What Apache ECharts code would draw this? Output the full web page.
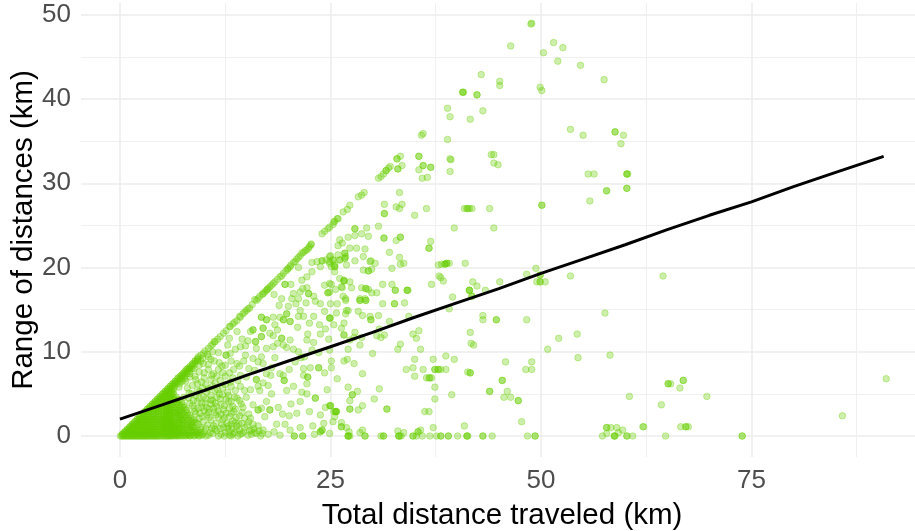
<!DOCTYPE html>
<html><head><meta charset="utf-8">
<script src="https://cdn.jsdelivr.net/npm/echarts@6/dist/echarts.min.js"></script>
<style>html,body{margin:0;padding:0;background:#fff}#c{width:915px;height:531px}</style></head>
<body><div id="c"></div>
<script>
const xTicks=[0,25,50,75], xMinor=[12.5,37.5,62.5,87.5];
const yTicks=[0,10,20,30,40,50], yMinor=[5,15,25,35,45];
const trendLine=[[0,2.0],[5,3.7],[10,5.4],[15,7.2],[20,8.9],[25,10.6],[30,12.3],[35,14.1],[40,15.8],[45,17.5],[50,19.3],[55,21],[60,22.7],[65,24.5],[70,26.2],[75,27.8],[80,29.6],[85,31.3],[90.7,33.2]];
const upperPoints=[[48.8,48.9],[48.9,49],[46.4,46.3],[51.5,46.7],[50.3,45.5],[52.6,46.1],[52,44.5],[54.7,44],[57.5,42.3],[42.9,42.9],[45.1,42.1],[45.1,41.6],[49.9,41.4],[50.1,41],[40.7,40.8],[40.7,40.8],[40.8,40.8],[42.4,40.5],[42.4,40.5],[38.9,38.9],[39.2,37.9],[43.1,38.6],[41.6,37.6],[53.5,36.4],[55,35.7],[58.8,36.1],[58.8,36.1],[59.8,35.7],[59.5,34.7],[35.8,35.7],[36,35.9],[38.9,35.2],[33.3,33.2],[32.9,32.9],[32.9,32.9],[35.5,33.2],[35.5,33.2],[36,32.1],[36,32.1],[36.9,31.9],[36.9,31.9],[33.5,32.1],[33,31.7],[33,31.7],[35.5,31.6],[36.5,30.7],[35.9,30.6],[39.2,32.9],[39.3,32.8],[39.2,31.4],[44.1,33.4],[44.4,33.4],[44.4,32.4],[44.9,32.2],[55.6,31.1],[56.3,31.1],[60.2,31.1],[60.3,31.1],[57.8,29.1],[57.8,29.1],[60.2,29.4],[55.8,27.9],[50.1,27.4],[50.1,27.4],[33.2,28.9],[31.4,27.5],[31.4,26.4],[31.4,26.4],[33.5,27.5],[32.8,27.2],[33.2,27],[36.4,27],[35,26.2],[40.9,27],[41.2,27],[41.3,27],[41.5,27],[41.8,27],[43.9,27],[30.7,24.9],[27.9,24.6],[27.9,24.6],[29.3,24.7],[39.7,24.7],[44.4,24.7]];
const diagonalPoints=[[30.7,30.6],[31,30.8],[31.3,31.1],[31.6,31.5],[31.6,31.5],[31.9,31.8],[32.1,32],[29,28.9],[28.7,28.6],[28.3,28.4],[27.3,27.4],[27,26.9],[26.5,26.6],[25.9,25.8],[25.8,25.8],[25.5,25.5],[25.4,25.4],[25.3,25.1],[24.9,24.8],[24.7,24.6],[24.3,24.3],[24,24],[22.7,22.7],[22.7,22.8],[22.4,22.3],[21.8,21.8],[21.6,21.7],[21.4,21.4],[21.2,21.2],[20.8,20.7],[20.6,20.6],[20.3,20.3],[20,19.9],[19.9,19.8],[19.4,19.3],[19.2,19],[18.4,18.3],[17.8,17.7],[17.6,17.5],[17.5,17.4],[17.4,17.3],[17,16.9],[16.6,16.6],[16.4,16.3],[16,16.2],[15.4,15.2],[15.2,15.1],[14.3,14.1],[14.2,14.2],[13.9,13.7],[13.1,13],[13,13],[12.3,12.2],[11.3,11.2],[11.2,11.2],[11,10.9],[10.1,10.1],[9.9,9.8],[9.6,9.6],[9.3,9.4]];
const extraDiagonal=[[9.2,9.1],[8.9,8.9],[8.6,8.5],[8.2,8.1],[7.9,7.9],[7.6,7.5],[7.3,7.2],[6.9,6.9],[6.6,6.5],[6.3,6.2],[6,5.9],[5.7,5.6],[5.4,5.3],[5.1,5],[4.8,4.7],[4.5,4.4],[4.2,4.1],[3.9,3.8],[3.6,3.5],[3.3,3.2],[3,2.9],[2.7,2.6],[2.4,2.3],[2.1,2],[1.8,1.7],[1.5,1.4],[1.2,1.1],[.9,.8],[.6,.5],[.3,.2],[10.5,10.4],[10.8,10.7],[11.6,11.5],[11.9,11.8],[12.6,12.5],[13.4,13.3],[13.6,13.5],[14.6,14.5],[14.8,14.7],[15,14.9],[15.7,15.6],[16.2,16.1],[16.9,16.8],[17.2,17.1],[18,17.9],[18.2,18.1],[18.7,18.6],[19,18.9],[19.7,19.6],[20.2,20.1],[21,21],[22,22],[22.2,22.1],[22.5,22.5]];
const middlePoints=[[31.35,23.5],[31.35,23.5],[33.3,23.6],[33.3,23.6],[32.8,23.2],[36.9,23.1],[36.7,22.3],[36.7,22.3],[26.1,23.3],[27.1,23.6],[27.9,23.8],[28.7,24],[29.5,23.7],[32,21.8],[33.2,21.2],[33.3,20.4],[33.7,20.5],[32.3,19.9],[30.3,20.5],[29.7,20.7],[29.1,22.2],[28.1,22.3],[27.3,22.3],[26.4,22.9],[25.9,22.6],[26.7,21.7],[26.7,21.7],[26.7,21.1],[26.7,21.1],[26.1,20.9],[26.1,20.9],[25.3,20.9],[25.3,20.9],[25.5,20.1],[25.5,20.1],[26.9,20.3],[27.9,20.8],[28.9,21.3],[29.8,20.8],[28.9,19.7],[29.5,19.6],[29.5,19.6],[29.9,19.8],[24.9,21.3],[24.9,20.5],[24.9,18.1],[26.1,18.7],[26.6,18.4],[26.6,18.4],[27.3,18.3],[27.5,17.6],[26.4,17.6],[25.6,17.4],[24.9,17.1],[28.7,17.6],[29.2,17.5],[29.2,17.5],[29.9,17],[30.5,17],[29.5,17.4],[31.2,18],[32.3,18],[32.7,17.3],[32.7,17.3],[34.1,17.3],[34.1,17.3],[34.2,17.3],[28.5,16.1],[28.5,16.1],[29.2,16.1],[29.2,16.1],[26.8,16.1],[25.8,15.7],[31.2,15.7],[32.6,15.7],[32.6,15.7],[33.8,15.8],[25.7,14.6],[27.1,14.9],[26.8,14.5],[28.3,14.8],[28.8,14.3],[29.7,14.2],[30.7,14.3],[29.8,13.8],[29.8,13.8],[32,13.6],[34.3,14.2],[24.9,14],[24.9,14],[26.6,13.4],[25.4,13.2],[26.3,12.8],[26.6,12],[26.6,12],[27.9,12.3],[27.8,11.7],[28.7,11.7],[27.3,11.4],[28.5,10.8],[30.8,12.7],[30.5,11.9],[31,11.7],[31.4,12],[34.8,12.1],[35.5,12.5],[35.2,11.6],[33.3,10.9],[33,10.3],[35.7,10.3],[27.1,10.3],[30,9.8],[24.9,10.2],[25.1,8.9],[25.1,8.1],[26.6,8.9],[27,9.1],[27.8,8.6],[28.8,7.4],[35,9.1],[37.2,9.1],[38.7,9.5],[39.7,9.1],[34.8,8.1],[34,7.9],[36,7.9],[37.4,7.9],[37.4,7.9],[37.8,7.9],[37.8,7.9],[38.1,7.9],[38.7,7.9],[35,7.1],[36.4,6.9],[36.7,6.9],[36.8,6.9],[37,6.9],[37.4,5.8],[37.4,4.4],[39.4,4.9],[36.2,2.9],[36.7,2.9],[37.2,1],[40.9,1.2],[41.6,7.5],[41.6,7.5],[41.3,7.6],[45.8,8.8],[48.9,8.8],[48.2,7.9],[48.9,7.9],[45.4,6.6],[45.4,6.6],[43.9,5.3],[43.9,5.3],[46,5.3],[45.6,4.6],[46.4,4.6],[47.3,4.2],[47.3,4.2],[47.7,1.7],[41.6,12.3],[41.7,11],[42,10.8],[43.1,14.3],[43.1,13.8],[44.7,13.8],[44.7,13.8],[48.3,13.8],[52.1,11.6],[54.3,12.1],[50.8,10.3],[54.4,9.3],[58.2,9.6],[57.6,14.6],[53.5,19],[49.4,19.9],[48.3,19.2],[49.9,19.1],[49.9,19.1],[49.9,18.3],[49.9,18.3],[49.5,18.3],[50.5,18.3],[45.1,18.3],[41.9,18.3],[42.4,17.8],[43.4,17.3],[41.5,17.3],[41.5,17.3],[41.5,17.3],[41.8,16.6],[41.8,16.6],[39.5,16.5],[37,18],[37.9,19],[38.4,18.4],[38.1,18.8],[37.8,20.3],[38.2,20.4],[38.6,20.4],[38.6,20.4],[38.8,20.5],[38.8,20.5],[39.1,20.5],[41,20.5],[39.1,15.1],[26.3,1.1],[26.3,1.1],[27.2,0.5],[28.5,0.4],[28.8,0.7],[33,0.6],[33.7,0.4],[35.4,0.5],[35.4,0.5],[35.7,0.7],[25.3,1.7],[26.3,1.6],[26.9,1],[25.4,2.9],[25.6,2.9],[25.6,2.9],[24.9,3.6],[27.3,3.2],[27.3,3.2],[28.3,3.1],[28.8,3.6],[31.7,3.2],[31.7,3.2],[30.2,4.4],[27.3,4.2],[27.6,4.9],[27.6,4.9],[28.2,5.3],[27.1,5.8],[30.8,5.6]];
const farPoints=[[60.2,31.1],[60.2,29.4],[64.5,19],[60.5,4.7],[65.1,6.2],[65.1,6.2],[65.4,6.2],[66.9,6.6],[66.9,6.6],[66.5,5.7],[69.7,4.7],[64.3,3.7],[62.1,1.1],[62.2,1.1],[66.6,1.1],[67.2,1.1],[67.2,1.1],[67.5,1.1],[64.8,0],[73.9,0],[73.9,0],[85.8,2.4],[91,6.8],[57.8,1],[57.8,1],[58.3,1],[59,1],[59.7,0.7],[57.8,0.3],[59.2,0.4]];
const zeroRowX=[27.1,27.1,27.3,29.1,31,31.3,31.3,33.1,33.1,33.2,33.4,34.8,34.8,35.2,35.9,36.8,37.6,38.1,38.1,39,39,40.1,41.2,41.2,41.3,43.1,43.1,44.2,48.4,49.3,49.3,57.3,58.7,58.7,58.8,60.2,60.2,60.9,20.7,20.7,21.7,21.7,27.1,29.1];
const branchPoints=[[22.8,20.6],[23.4,20.7],[24,20.8],[24,20.8],[24.5,20.9],[25,21.4],[25.9,21.5],[26.8,21.3],[24.9,20.7],[25.5,20.3],[23.8,20.1],[22.8,19.5],[25.1,20.1],[25.5,19.5],[22.2,18.9],[21.6,18.5],[21.2,20],[26.6,18.5],[24.3,17.9],[25.1,18],[26.3,17.7],[19.6,18],[19.6,18],[20.3,18],[21.4,17.1],[22.2,17.6],[22.4,16.9],[22.4,16.9],[23,16.6],[20.6,16.9],[21.7,17.5],[24.7,17],[24.7,17],[26.5,16.6],[18.3,16.8],[19.2,16.3],[20.4,16.3],[21.2,16.3],[26.8,16.3],[28.5,16.3],[29.1,16.3],[20,15.4],[21.4,14.9],[21.2,14.2],[21.8,14.2],[23,14.2],[23.8,15.7],[25,14],[26.9,14.9],[19.8,14.5],[19.8,14.5],[19.4,13.8],[19.4,13.8],[20.2,13.6],[20.2,13.6],[19,14.1],[18.2,14.1],[16.8,14.1],[16.8,14.1],[17.4,13.8],[17.4,13.8],[15.8,12.6],[15.8,12.6],[17,12.8],[17,12.8],[18.4,13.2],[17.8,12.2],[18.2,11.9],[16.8,11.8],[16.8,11.8],[19.2,11.6],[19.2,11.6],[20.2,11.4],[15.5,12.4],[13.9,12.4],[14.5,11.5],[14.3,10.6],[13.7,10.3],[12.6,9.6],[12.6,9.6],[10.5,9.4],[16.1,11.2],[16.1,11.2],[16.2,10.4],[17.4,10.4],[18.2,10.6],[19.4,10.8],[19.8,10.5],[20.6,10.3],[21.2,10],[22.3,12.1],[23.8,12.1],[22.2,11.4],[23,11.1],[23.6,9.9],[13.9,8.6],[14.7,8.9],[18.4,9.3],[16.4,8.8],[23.6,8.1],[23.6,8.1],[22.6,8.1],[21.8,8],[21.8,7.2],[22.3,7],[22.3,7],[19,7.4],[19.5,6.6],[19.5,6.6],[19.4,7.2],[17.4,7.4],[16.2,6.7],[16.2,6.7],[17,6.3],[17.6,6],[16.4,5.9],[16.6,5.4],[15,7],[14.3,7.2],[22.2,6.2],[21.6,5.2],[22.2,5],[23.2,4.5],[23.2,4.5],[25,3.6],[25,3.6],[25.7,2.9],[25.7,2.9],[25.5,2.3],[24.2,1.5],[23.8,0.5],[23.8,0.5],[24,0.7],[24,0.7],[21.4,4.1],[20.3,3.8],[22.5,2.9],[21,2.7],[20.1,2.4],[19.6,1.4],[18.6,1.4],[16.4,3.1],[16.4,3.1],[16.8,3.3],[17.8,3.1],[17.8,3.1],[17.2,2.3],[17.4,4.1],[18,5],[15.8,3.7]];
const clusterPoints=[[7,0.4],[7.5,0.8],[8,0.3],[8.4,1.1],[8.9,0.5],[9.3,1.4],[9.8,0.2],[10.2,0.9],[10.7,0.4],[11.1,1.2],[11.5,0.6],[12,0.2],[12.3,1],[12.7,1.5],[13,0.5],[13.3,0.9],[13.6,0.4],[13.9,1.2],[14.2,0.7],[14.5,0.3],[14.8,1],[15.1,1.3],[15.4,0.6],[15.6,0.2],[15.9,0.9],[16.2,0.3],[16.4,1.2],[16.7,0],[17,0.7],[11.7,0],[12.4,0],[13.2,0],[14,0],[14.1,1.5],[13.7,1.6],[13.2,1.4],[12.8,0.9],[6.9,1.5],[7.3,2],[7.8,1.4],[8.1,2.4],[8.6,1.8],[9,2.6],[9.4,2.1],[9.9,1.7],[10.3,2.5],[10.8,1.9],[11.2,2.8],[11.7,2.2],[12.2,1.9],[12.6,2.7],[13,2.3],[13.5,2.9],[14.2,2.4],[14.8,2.1],[15.3,2.6],[7,3],[7.4,3.5],[7.9,3.1],[8.3,3.9],[8.8,3.3],[9.2,4.1],[9.7,3.4],[10.1,3.9],[10.6,3.2],[11,4.2],[11.5,3.5],[11.9,4.4],[12.4,3.6],[12.9,4.1],[13.4,3.5],[13.9,4.5],[14.4,3.8],[15,4.6],[6.7,3.9],[7.1,4.3],[7.6,4.6],[8.1,4.5],[8.5,5],[9,4.8],[9.5,5.3],[9.9,4.7],[10.3,5.2],[10.8,4.8],[11.3,5.4],[11.8,5],[12.2,5.7],[12.8,5.2],[13.2,5.9],[13.7,5.4],[8,5.7],[8.6,6],[9.2,6.2],[9.7,6.4],[10.2,6.1],[10.8,6.7],[11.3,6.3],[11.9,6.6],[12.5,7.1],[7.8,6.5],[8.3,7],[8.9,7.1],[9.4,7.6],[10,7.5],[10.5,7.9],[11.1,7.4],[11.7,7.9],[12.1,8.3],[8.8,8],[9.4,8.4],[9.9,8.6],[10.5,8.5],[11.2,8.9],[9.8,9.2],[10.4,9.7],[11,10],[11.7,9.9],[7,5.8],[5.9,5.2],[6.3,4.4],[7.2,2.5],[6.6,2.8],[6.9,0.9],[13,7.5],[13.4,6.9]];
const extraCluster=[[8.2,.1],[9.1,.2],[10,.5],[10.5,.1],[11,.3],[11.3,.8],[11.9,.9],[12.5,.4],[13,.1],[13.4,.2],[13.8,.8],[14.3,.2],[14.7,.5],[15.2,.1],[15.6,.7],[16,.4],[16.5,.6],[16.9,.3],[8.7,1],[9.6,.8],[10.4,1.3],[10.9,.9],[11.4,1.5],[12.1,1.4],[12.9,1.2],[13.4,1.8],[14.5,1.5],[15.3,1.7],[15.8,1.4],[8.9,1.6],[9.8,2.3],[10.6,2.2],[11.4,2.5],[12,2.6],[12.4,2.2],[13.2,2.7],[13.8,2.2],[14.5,2.8],[15.5,2.1],[8.4,2.1],[8.9,2.9],[9.5,2.7],[10,3],[10.5,2.8],[11.1,3.3],[11.7,3],[12.3,3.1],[13,3.3],[13.7,3.2],[14.6,3.4],[8.6,3.6],[9.3,3.3],[9.7,3.9],[10.3,3.4],[10.8,3.8],[11.3,3.9],[12,3.8],[12.6,4.4],[13.2,4.1],[13.6,4.6],[14.2,4.2],[8.7,4.2],[9.4,4.5],[10.2,4.4],[10.8,4.3],[11.5,4.6],[12.2,4.9],[12.9,4.8],[8.2,5.1],[9.2,5.4],[9.8,5.7],[10.5,5.6],[11,5.9],[11.6,5.5],[12.5,6.1],[13.1,6.4],[14.3,5.9],[14.8,5.4],[15.5,5.5],[14,6.6],[9,6.7],[10,6.9],[10.9,7.2],[11.5,7.1],[12.2,7.5],[13.5,7.9],[14.2,8.3],[15.3,8],[16,7.8],[9.6,8.9],[10.8,9.1],[11.8,8.7],[12.5,8.4],[13.2,8.9],[14.9,9.6],[15.8,9.2],[17,8.6],[18,8.1],[17.9,7.2],[20.1,7.9],[20.8,8.8],[21.5,9.3],[24.3,7.5],[25.8,6.8],[24.6,5.5],[19.8,5.4],[20.6,5.9],[18.8,3.4],[19.3,2.6],[23.8,2.5],[24.4,3.4],[22.9,1.2],[21.4,1],[20.2,.7],[18.3,.5],[17.6,.2],[19,.1],[23.1,.2],[24.9,.3],[13.1,9.8],[12.8,10.8],[14.9,10.7],[15.2,11.3],[13,11.6],[16.8,9.4],[18.7,11],[21.1,12.9],[22.5,13.4],[23.7,13.2],[24.3,14.8],[22.1,15.8],[23.2,16],[25,15.7],[24.4,12.7],[24.8,11.5],[21.9,9.4],[22.8,10.2],[18.7,12.6],[20.9,15.7],[18.9,15.5]];
const denseRows=[
[0,.05,.2,.35,.5,.65,.8,.95,1.1,1.25,1.4,1.55,1.7,1.85,2,2.15,2.3,2.45,2.6,2.75,2.9,3.05,3.2,3.35,3.5,3.7,3.85,4,4.2,4.35,4.5,4.7,4.9,5.1,5.3,5.5,5.7,5.9,6.1,6.4,6.7,7,7.4,7.8,8.3,8.8,9.4,10.2],
[.25,.3,.5,.7,.9,1.1,1.3,1.5,1.7,1.9,2.1,2.3,2.5,2.7,2.9,3.1,3.3,3.5,3.7,3.9,4.1,4.3,4.5,4.8,5.1,5.4,5.7,6,6.3,6.7],
[.5,.55,.8,1,1.2,1.4,1.6,1.85,2.05,2.25,2.5,2.7,2.95,3.15,3.4,3.6,3.85,4.05,4.3,4.55,4.8,5.05,5.35,5.6,5.95,6.25,6.6],
[.8,.85,1.05,1.3,1.5,1.75,2,2.2,2.45,2.7,2.9,3.15,3.4,3.65,3.9,4.15,4.4,4.7,5,5.3,5.6,5.9,6.2,6.5],
[1.1,1.15,1.35,1.6,1.85,2.1,2.35,2.6,2.85,3.1,3.35,3.6,3.85,4.1,4.4,4.7,5,5.3,5.65,6,6.35],
[1.4,1.45,1.65,1.9,2.15,2.4,2.65,2.9,3.15,3.4,3.7,3.95,4.2,4.5,4.8,5.1,5.45,5.8,6.15],
[1.7,1.75,2,2.25,2.5,2.75,3,3.25,3.5,3.75,4.05,4.35,4.65,4.95,5.3,5.65,6],
[2,2.05,2.3,2.55,2.8,3.05,3.3,3.6,3.85,4.15,4.45,4.75,5.05,5.4,5.75,6.1],
[2.3,2.35,2.6,2.85,3.1,3.4,3.65,3.95,4.2,4.5,4.85,5.15,5.5,5.85],
[2.6,2.65,2.9,3.15,3.4,3.7,3.95,4.25,4.55,4.85,5.2,5.55,5.9],
[2.9,2.95,3.2,3.45,3.75,4,4.3,4.6,4.95,5.3,5.65],
[3.2,3.25,3.5,3.75,4.05,4.3,4.6,4.9,5.2,5.55,5.95],
[3.5,3.55,3.8,4.05,4.35,4.6,4.9,5.25,5.6],
[3.8,3.85,4.1,4.35,4.65,4.95,5.3,5.7],
[4.1,4.15,4.4,4.65,4.95,5.25,5.6],
[4.4,4.45,4.7,4.95,5.25,5.55,5.9],
[4.7,4.75,5,5.25,5.5,5.85],
[5,5.05,5.3,5.55,5.8,6.1],
[5.3,5.35,5.6,5.85,6.15],
[5.6,5.65,5.9,6.15,6.4],
[5.9,5.95,6.2,6.45],
[6.2,6.25,6.5,6.75,7.1],
[6.5,6.55,6.8,7.05,7.4],
[6.8,6.85,7.1,7.35,7.7],
[7.1,7.15,7.4,7.65],
[7.4,7.45,7.7,7.95,8.3],
[7.7,7.75,8,8.25],
[8,8.05,8.3,8.55],
[8.3,8.35,8.6],
[8.6,8.65,8.9],
[8.9,8.95,9.2],
[9.2,9.25]];
const extraRows=[
[.1,5.6,6,6.3,6.6,6.9,7.2,7.5,7.8,8.1,8.5,8.9,9.3,9.7],
[.4,5.2,5.5,5.8,6.1,6.5,6.8,7.1,7.4,7.7,8.2,8.6,9.1,9.5],
[.7,5.4,5.7,6,6.4,6.7,7,7.3,7.6,8,8.4,8.8,9.2],
[1,5.2,5.5,5.9,6.2,6.5,6.8,7.1,7.4,7.9,8.3,8.7,9.6],
[1.3,5.3,5.6,6,6.3,6.6,7,7.3,7.7,8.1,8.5],
[1.6,5.1,5.5,5.8,6.1,6.4,6.8,7.1,7.5,8,8.5,9.1],
[1.9,5.2,5.6,5.9,6.3,6.7,7,7.4,7.7,8.2,8.8],
[2.2,5.4,5.7,6,6.4,6.8,7.1,7.5,7.9],
[2.5,5.5,5.9,6.2,6.5,6.9,7.3,7.7,8.3],
[2.8,5.6,6,6.4,6.7,7.1,7.5,8],
[3.1,5.5,5.8,6.1,6.5,6.9,7.3,7.8],
[3.4,5.7,6,6.3,6.7,7.2,7.6],
[3.7,5.5,5.9,6.2,6.6,7,7.5],
[4,5.6,6,6.4,6.8,7.3],
[4.3,5.8,6.1,6.5,6.9],
[4.6,5.9,6.3,6.7],
[4.9,6,6.4],
[5.2,6.3]];
const xTitle="Total distance traveled (km)", yTitle="Range of distances (km)";

const allPoints=[...upperPoints,...diagonalPoints,...extraDiagonal,...middlePoints,...farPoints,...branchPoints,...clusterPoints,...extraCluster,...zeroRowX.map(x=>[x,0])];
[...denseRows,...extraRows].forEach(r=>r.slice(1).forEach(x=>allPoints.push([x,r[0]])));

const xMin=-4.63,xMax=94.42,yMin=-2.49,yMax=51.4;
const gridMajor={show:true,lineStyle:{color:'#EDEDED',width:1.5}};
const gridMinor={show:true,lineStyle:{color:'#F0F0F0',width:1}};
const green='rgba(102,205,0,0.33)';
const chart=echarts.init(document.getElementById('c'),null,{renderer:'canvas'});
chart.setOption({
 animation:false,backgroundColor:'#fff',
 grid:{left:81,right:0,top:3,bottom:74,containLabel:false,outerBoundsMode:'none'},
 xAxis:[{type:'value',min:xMin,max:xMax,name:xTitle,nameLocation:'middle',nameGap:44,nameMoveOverlap:false,
   nameTextStyle:{fontFamily:'Liberation Sans',fontSize:29.5,color:'#000',padding:[0,0,0,8]},
   axisLine:{show:false},axisTick:{show:false,customValues:xTicks},
   axisLabel:{customValues:xTicks,margin:11,fontFamily:'Liberation Sans',fontSize:26,color:'#4D4D4D',formatter:v=>String(v)},
   splitLine:gridMajor},
  {type:'value',min:xMin,max:xMax,position:'bottom',axisLine:{show:false},axisTick:{show:false,customValues:xMinor},axisLabel:{show:false},splitLine:gridMinor}],
 yAxis:[{type:'value',min:yMin,max:yMax,name:yTitle,nameLocation:'middle',nameGap:42,nameMoveOverlap:false,
   nameTextStyle:{fontFamily:'Liberation Sans',fontSize:29.5,color:'#000'},
   axisLine:{show:false},axisTick:{show:false,customValues:yTicks},
   axisLabel:{customValues:yTicks,margin:10,fontFamily:'Liberation Sans',fontSize:26,color:'#4D4D4D',formatter:v=>String(v)},
   splitLine:gridMajor},
  {type:'value',min:yMin,max:yMax,position:'left',axisLine:{show:false},axisTick:{show:false,customValues:yMinor},axisLabel:{show:false},splitLine:gridMinor}],
 series:[
  {type:'scatter',data:allPoints,symbol:'circle',symbolSize:6.6,large:false,silent:true,
   itemStyle:{color:green,borderColor:green,borderWidth:1,opacity:1}},
  {type:'line',data:trendLine,showSymbol:false,silent:true,z:5,lineStyle:{color:'#000',width:3}}
 ]
});
</script></body></html>
